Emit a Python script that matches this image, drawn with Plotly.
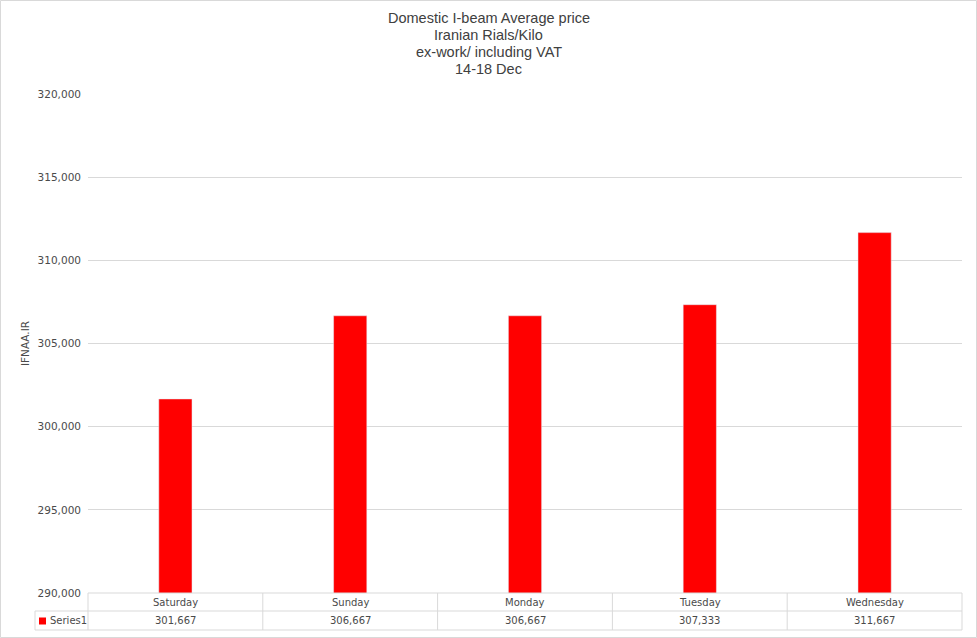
import plotly.graph_objects as go

categories = ["Saturday", "Sunday", "Monday", "Tuesday", "Wednesday"]
values = [301667, 306667, 306667, 307333, 311667]
series_name = "Series1"
title_lines = ["Domestic I-beam Average price", "Iranian Rials/Kilo", "ex-work/ including VAT", "14-18 Dec"]
y_ticks = [290000, 295000, 300000, 305000, 310000, 315000, 320000]

W, H = 977, 638
L, R, T, B = 88, 15, 94, 45
pw, ph = W - L - R, H - T - B

def px(x):
    return (x - L) / pw

def py(y):
    return (H - B - y) / ph

GRID = "#d9d9d9"
TXT = "#4a4a4a"
TITLE = "#404040"

fig = go.Figure()
fig.add_trace(go.Bar(x=categories, y=values, marker_color="#ff0000", width=0.19,
                     name=series_name, showlegend=False))

shapes = []
row0, row1, row2 = H - B, 611, 630
cat_left = L
cat_right = W - R
shapes.append(dict(type="line", xref="paper", yref="paper", x0=px(cat_left), x1=px(cat_right), y0=py(row0), y1=py(row0), line=dict(color=GRID, width=1)))
for yy in (row1, row2):
    shapes.append(dict(type="line", xref="paper", yref="paper", x0=px(35), x1=px(cat_right), y0=py(yy), y1=py(yy), line=dict(color=GRID, width=1)))
shapes.append(dict(type="line", xref="paper", yref="paper", x0=px(35), x1=px(35), y0=py(row1), y1=py(row2), line=dict(color=GRID, width=1)))
n = len(categories)
for i in range(n + 1):
    xx = cat_left + i * (cat_right - cat_left) / n
    shapes.append(dict(type="line", xref="paper", yref="paper", x0=px(xx), x1=px(xx), y0=py(row0), y1=py(row2), line=dict(color=GRID, width=1)))
shapes.append(dict(type="rect", xref="paper", yref="paper", x0=px(39), x1=px(46), y0=py(617.5), y1=py(624.5), fillcolor="#ff0000", line=dict(width=0)))
shapes.append(dict(type="rect", xref="paper", yref="paper", x0=px(0.5), x1=px(W - 0.5), y0=py(0.5), y1=py(H - 0.5), line=dict(color="#d9d9d9", width=1)))

annotations = []
title_y = [18, 35, 52, 69]
for line, yy in zip(title_lines, title_y):
    annotations.append(dict(x=px(W / 2), y=py(yy), xref="paper", yref="paper", text=line, showarrow=False,
                            font=dict(family="Liberation Sans", size=14.5, color=TITLE), xanchor="center", yanchor="middle"))
for i, (c, v) in enumerate(zip(categories, values)):
    cx = cat_left + (i + 0.5) * (cat_right - cat_left) / n
    annotations.append(dict(x=px(cx), y=py((row0 + row1) / 2), xref="paper", yref="paper", text=c, showarrow=False,
                            font=dict(family="DejaVu Sans", size=10, color=TXT), xanchor="center", yanchor="middle"))
    annotations.append(dict(x=px(cx), y=py((row1 + row2) / 2), xref="paper", yref="paper", text=f"{v:,}", showarrow=False,
                            font=dict(family="DejaVu Sans", size=10, color=TXT), xanchor="center", yanchor="middle"))
annotations.append(dict(x=px(48), y=py((row1 + row2) / 2), xref="paper", yref="paper", text=series_name, showarrow=False,
                        font=dict(family="DejaVu Sans", size=10, color=TXT), xanchor="left", yanchor="middle"))

fig.update_layout(
    width=W, height=H,
    margin=dict(l=L, r=R, t=T, b=B),
    paper_bgcolor="white", plot_bgcolor="white",
    xaxis=dict(showticklabels=False, showgrid=False, showline=False, zeroline=False, range=[-0.5, n - 0.5]),
    yaxis=dict(range=[290000, 320000], tickvals=y_ticks, tickformat=",d", showgrid=True, gridcolor=GRID, gridwidth=1,
               zeroline=False, showline=False, ticklabelstandoff=6,
               tickfont=dict(family="DejaVu Sans", size=10.5, color=TXT),
               title=dict(text="IFNAA.IR", standoff=5, font=dict(family="DejaVu Sans", size=10.5, color=TXT))),
    shapes=shapes, annotations=annotations, bargap=0.8,
)
fig.write_html("out.html", config={"displayModeBar": False},
               post_script="document.body.style.margin='0';document.body.style.overflow='hidden';")
